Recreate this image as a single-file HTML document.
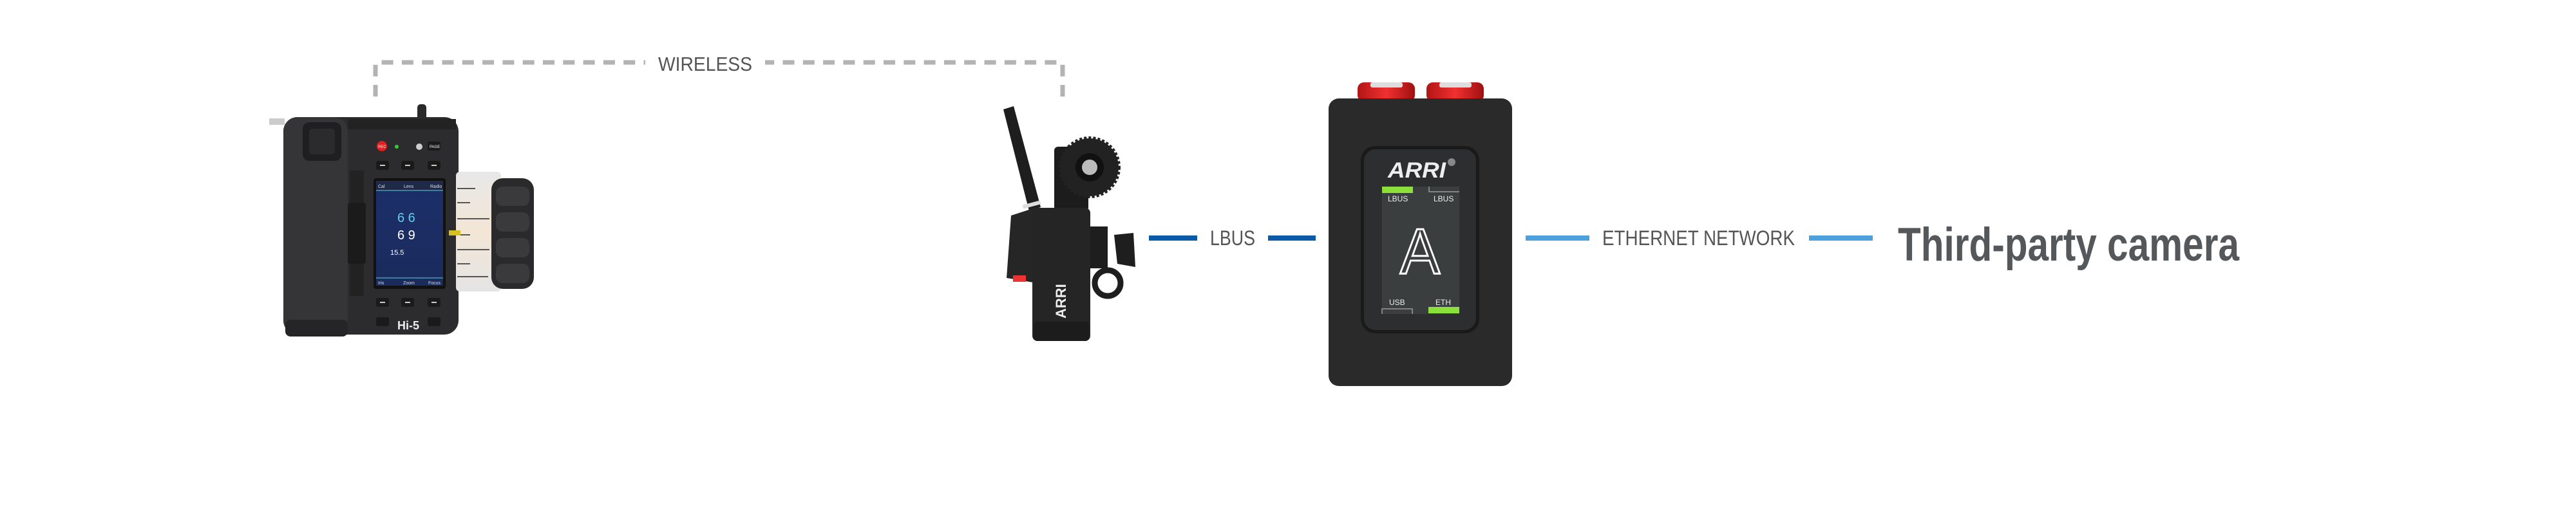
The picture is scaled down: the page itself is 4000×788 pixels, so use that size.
<!DOCTYPE html>
<html><head><meta charset="utf-8"><style>
html,body{margin:0;padding:0;background:#fff;}
svg{display:block;}
text{font-family:"Liberation Sans",sans-serif;}
</style></head><body>
<svg width="4000" height="788" viewBox="0 0 4000 788" xmlns="http://www.w3.org/2000/svg">
<rect width="4000" height="788" fill="#fff"/>
<defs>
<linearGradient id="ring" x1="0" y1="0" x2="0" y2="1"><stop offset="0" stop-color="#e8e8e8"/><stop offset="0.5" stop-color="#f3e6d6"/><stop offset="1" stop-color="#e4e4e4"/></linearGradient>
<linearGradient id="scr" x1="0" y1="0" x2="0" y2="1"><stop offset="0" stop-color="#1c2f6a"/><stop offset="1" stop-color="#1a2b5c"/></linearGradient>
<linearGradient id="red" x1="0" y1="0" x2="1" y2="0"><stop offset="0" stop-color="#b31515"/><stop offset="0.5" stop-color="#f03030"/><stop offset="1" stop-color="#a01010"/></linearGradient>
</defs>

<!-- WIRELESS dashed connector -->
<g stroke="#b3b3b3" stroke-width="7" fill="none">
<path d="M583 150 V97 H1002" stroke-dasharray="18 13.3"/>
<path d="M1650 150 V97 H1188" stroke-dasharray="18 13.3"/>
</g>
<text x="1022" y="110" font-size="31" fill="#555" textLength="146" lengthAdjust="spacingAndGlyphs">WIRELESS</text>

<!-- Hi-5 hand unit -->
<g>
<rect x="418" y="184" width="24" height="10" fill="#ccc"/>
<rect x="648" y="162" width="14" height="26" rx="5" fill="#2a2a2a"/>
<rect x="440" y="182" width="272" height="338" rx="22" fill="#2c2c2e"/>
<rect x="440" y="182" width="100" height="338" rx="22" fill="#353537"/>
<rect x="443" y="497" width="97" height="26" rx="8" fill="#252527"/>
<rect x="470" y="190" width="60" height="60" rx="10" fill="#1f1f21"/>
<rect x="480" y="200" width="40" height="40" rx="6" fill="#2b2b2d"/>
<rect x="540" y="185" width="168" height="16" fill="#222"/>
<!-- knob ring -->
<rect x="708" y="267" width="70" height="186" rx="6" fill="url(#ring)"/>
<g stroke="#555" stroke-width="2">
<line x1="710" y1="293" x2="738" y2="293"/><line x1="710" y1="315" x2="730" y2="315"/><line x1="710" y1="340" x2="760" y2="340"/>
<line x1="710" y1="365" x2="730" y2="365"/><line x1="710" y1="388" x2="760" y2="388"/><line x1="710" y1="410" x2="730" y2="410"/>
<line x1="710" y1="430" x2="758" y2="430"/>
</g>
<rect x="763" y="277" width="66" height="172" rx="18" fill="#2a2a2c"/>
<g fill="#3a3a3c"><rect x="770" y="290" width="52" height="30" rx="10"/><rect x="770" y="330" width="52" height="30" rx="10"/><rect x="770" y="370" width="52" height="30" rx="10"/><rect x="770" y="410" width="52" height="30" rx="10"/></g>
<rect x="697" y="358" width="18" height="8" fill="#d4c020"/>
<!-- buttons -->
<circle cx="593" cy="227" r="8" fill="#e02020"/><text x="587" y="230" font-size="6" fill="#fff">REC</text>
<circle cx="616" cy="228" r="3" fill="#3c3"/>
<circle cx="651" cy="228" r="5" fill="#ccc"/>
<rect x="664" y="220" width="20" height="14" rx="3" fill="#1a1a1a"/><text x="667" y="230" font-size="6" fill="#fff">PAGE</text>
<g fill="#1a1a1a"><rect x="584" y="250" width="20" height="14" rx="3"/><rect x="623" y="250" width="20" height="14" rx="3"/><rect x="664" y="250" width="20" height="14" rx="3"/>
<rect x="584" y="463" width="20" height="14" rx="3"/><rect x="623" y="463" width="20" height="14" rx="3"/><rect x="664" y="463" width="20" height="14" rx="3"/>
<rect x="584" y="493" width="20" height="14" rx="3"/><rect x="664" y="493" width="20" height="14" rx="3"/>
<rect x="543" y="265" width="22" height="195" fill="#222"/><rect x="540" y="315" width="28" height="95" rx="4" fill="#1b1b1b"/></g>
<g fill="#ccc"><rect x="590" y="256" width="8" height="2"/><rect x="629" y="256" width="8" height="2"/><rect x="670" y="256" width="8" height="2"/><rect x="590" y="469" width="8" height="2"/><rect x="629" y="469" width="8" height="2"/><rect x="670" y="469" width="8" height="2"/></g>
<text x="617" y="512" font-size="18" font-weight="bold" fill="#eee">Hi-5</text>
<!-- screen -->
<rect x="580" y="277" width="112" height="172" rx="4" fill="#111"/>
<rect x="584" y="281" width="104" height="163" fill="url(#scr)"/>
<rect x="584" y="281" width="104" height="14" fill="#1f2a48"/>
<text x="587" y="292" font-size="7" fill="#ddd">Cal</text><text x="627" y="292" font-size="7" fill="#ddd">Lens</text><text x="668" y="292" font-size="7" fill="#ddd">Radio</text>
<line x1="584" y1="296" x2="688" y2="296" stroke="#6cd" stroke-width="1"/>
<text x="617" y="345" font-size="20" fill="#6ce">6 6</text>
<text x="617" y="372" font-size="20" fill="#fff">6 9</text>
<text x="606" y="396" font-size="11" fill="#fff">15.5</text>
<text x="587" y="442" font-size="7" fill="#ddd">Iris</text><text x="626" y="442" font-size="7" fill="#ddd">Zoom</text><text x="665" y="442" font-size="7" fill="#ddd">Focus</text>
<line x1="584" y1="432" x2="688" y2="432" stroke="#6cd" stroke-width="1"/>
</g>

<!-- Motor -->
<g>
<polygon points="1558,170 1574,165 1616,322 1598,328" fill="#1e1e1e"/>
<rect x="1588" y="315" width="28" height="6" fill="#ddd" transform="rotate(-15 1602 318)"/>
<rect x="1637" y="228" width="53" height="100" rx="6" fill="#1c1c1c"/>
<circle cx="1692" cy="260" r="45" fill="#222" stroke="#222" stroke-width="6" stroke-dasharray="4 3"/>
<circle cx="1692" cy="260" r="22" fill="#111"/><circle cx="1692" cy="260" r="12" fill="#bbb"/>
<polygon points="1570,335 1610,322 1610,440 1563,432" fill="#262626"/>
<rect x="1603" y="323" width="90" height="207" rx="8" fill="#252525"/>
<rect x="1605" y="500" width="86" height="30" rx="6" fill="#1c1c1c"/>
<rect x="1573" y="428" width="20" height="10" fill="#e33"/>
<text transform="translate(1655,495) rotate(-90)" font-size="22" font-weight="bold" fill="#eee">ARRI</text>
<rect x="1693" y="352" width="27" height="65" fill="#1e1e1e"/>
<circle cx="1720" cy="440" r="20" fill="none" stroke="#1e1e1e" stroke-width="9"/>
<polygon points="1730,365 1760,362 1763,415 1735,410" fill="#1e1e1e"/>
</g>

<!-- LBUS connector -->
<g fill="#0b5aa8"><rect x="1784" y="366" width="75" height="8"/><rect x="1969" y="366" width="74" height="8"/></g>
<text x="1879" y="381" font-size="32" fill="#555" textLength="70" lengthAdjust="spacingAndGlyphs">LBUS</text>

<!-- Box -->
<g>
<rect x="2108" y="128" width="89" height="30" rx="10" fill="url(#red)"/>
<rect x="2215" y="128" width="89" height="30" rx="10" fill="url(#red)"/>
<rect x="2128" y="128" width="50" height="8" rx="3" fill="#ddd"/><rect x="2235" y="128" width="50" height="8" rx="3" fill="#ddd"/>
<rect x="2063" y="153" width="285" height="447" rx="16" fill="#2a2a2b"/>
<rect x="2113" y="227" width="184" height="291" rx="22" fill="#1a1a1b"/>
<rect x="2118" y="232" width="174" height="281" rx="18" fill="#2d2e2f"/>
<rect x="2146" y="290" width="120" height="198" fill="#3b3e3e"/>
<text x="2155" y="276" font-size="34" font-weight="bold" font-style="italic" fill="#eee" textLength="90" lengthAdjust="spacingAndGlyphs">ARRI</text>
<circle cx="2254" cy="252" r="6" fill="#888"/>
<rect x="2146" y="290" width="48" height="10" fill="#8be03a"/>
<rect x="2218" y="477" width="48" height="10" fill="#8be03a"/>
<path d="M2219 290 V298 H2266" stroke="#999" stroke-width="1.5" fill="none"/>
<path d="M2146 488 V480 H2193 V488" stroke="#999" stroke-width="1.5" fill="none"/>
<g font-size="12" fill="#eee"><text x="2155" y="313">LBUS</text><text x="2226" y="313">LBUS</text><text x="2157" y="474">USB</text><text x="2229" y="474">ETH</text></g>
<text x="2174" y="425" font-size="100" fill="#3b3e3e" stroke="#fff" stroke-width="3" textLength="62" lengthAdjust="spacingAndGlyphs">A</text>
</g>

<!-- Ethernet connector -->
<g fill="#4ba0dd"><rect x="2369" y="366" width="99" height="8"/><rect x="2809" y="366" width="99" height="8"/></g>
<text x="2488" y="381" font-size="32" fill="#555" textLength="299" lengthAdjust="spacingAndGlyphs">ETHERNET NETWORK</text>

<text x="2947" y="405" font-size="73" font-weight="bold" fill="#55585b" textLength="530" lengthAdjust="spacingAndGlyphs">Third-party camera</text>
</svg>
</body></html>
